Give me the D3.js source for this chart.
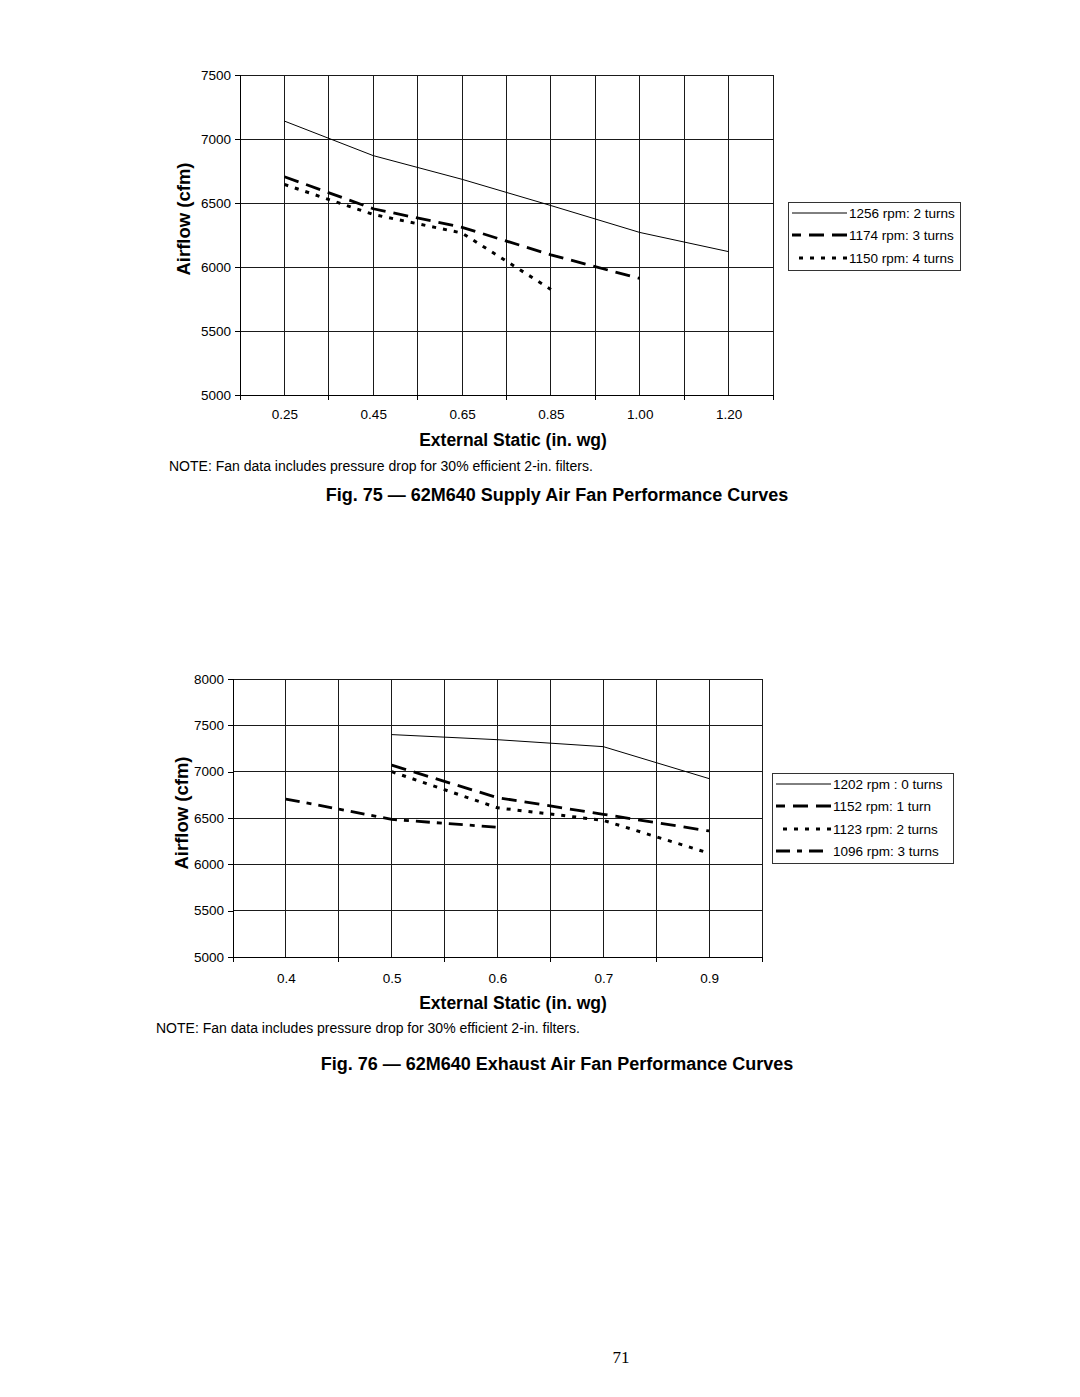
<!DOCTYPE html>
<html>
<head>
    <title>62M640 Fan Performance Curves</title>
    <script type="text/javascript" src="https://d3js.org/d3.v7.min.js"></script>
    <style>
        body { margin: 0; background: white; }
        text { font-family: "Liberation Sans", Arial, Helvetica, sans-serif; fill: black; }
    </style>
</head>
<body>
    <script type="text/javascript">
        // Fig. 75 - supply air fan
        var supplyCats = ["0.25", "0.45", "0.65", "0.85", "1.00", "1.20"];
        var supply1256 = [7140, 6870, 6685, 6480, 6270, 6120];
        var supply1174 = [6705, 6455, 6310, 6095, 5910, null];
        var supply1150 = [6645, 6410, 6265, 5825, null, null];
        var supplyNames = ["1256 rpm: 2 turns", "1174 rpm: 3 turns", "1150 rpm: 4 turns"];
        var supplyTicks = [5000, 5500, 6000, 6500, 7000, 7500];

        // Fig. 76 - exhaust air fan
        var exhaustCats = ["0.4", "0.5", "0.6", "0.7", "0.9"];
        var exhaust1202 = [null, 7400, 7345, 7270, 6925];
        var exhaust1152 = [null, 7070, 6720, 6540, 6360];
        var exhaust1123 = [null, 7000, 6610, 6475, 6120];
        var exhaust1096 = [6705, 6485, 6400, null, null];
        var exhaustNames = ["1202 rpm : 0 turns", "1152 rpm: 1 turn", "1123 rpm: 2 turns", "1096 rpm: 3 turns"];
        var exhaustTicks = [5000, 5500, 6000, 6500, 7000, 7500, 8000];

        var note = "NOTE: Fan data includes pressure drop for 30% efficient 2-in. filters.";

        // line styles: solid, dashed, dotted, dash-dot
        // fromRight = legend sample drawn from the text side so the pattern touches the label
        var styles = [
            { width: 1, dash: null, fromRight: true, len: 55 },
            { width: 2.8, dash: "15,8", fromRight: true, len: 55 },
            { width: 3, dash: "4,7", fromRight: true, len: 55 },
            { width: 2.8, dash: "14,7,5,7", fromRight: false, len: 49 }
        ];

        var svg = d3.select('body').append('svg')
                    .attr('width', 1080)
                    .attr('height', 1397);

        function drawChart(cfg) {
            var g = svg.append('g');

            var x = d3.scalePoint()
                .domain(cfg.cats)
                .range([cfg.left, cfg.right])
                .padding(0.5);
            var step = x.step();

            var y = d3.scaleLinear()
                .domain([cfg.ticks[0], cfg.ticks[cfg.ticks.length - 1]])
                .range([cfg.bottom, cfg.top]);

            // category boundaries + centres both get a vertical gridline
            var bounds = cfg.cats.map(function(c) { return x(c) - step / 2; });
            bounds.push(cfg.right);
            var vGrid = bounds.concat(cfg.cats.map(function(c) { return x(c); }));

            g.append('g').selectAll('line')
                .data(vGrid).enter()
                .append('line')
                .attr('x1', function(d) { return d; })
                .attr('x2', function(d) { return d; })
                .attr('y1', cfg.top)
                .attr('y2', cfg.bottom)
                .attr('stroke', '#1a1a1a')
                .attr('stroke-width', 1)
                .attr('shape-rendering', 'crispEdges');

            g.append('g').selectAll('line')
                .data(cfg.ticks).enter()
                .append('line')
                .attr('x1', cfg.left)
                .attr('x2', cfg.right)
                .attr('y1', function(d) { return y(d); })
                .attr('y2', function(d) { return y(d); })
                .attr('stroke', '#1a1a1a')
                .attr('stroke-width', 1)
                .attr('shape-rendering', 'crispEdges');

            // y axis
            var yAxis = d3.axisLeft(y)
                .tickValues(cfg.ticks)
                .tickSize(5)
                .tickPadding(4)
                .tickFormat(d3.format('d'));
            var ya = g.append('g')
                .attr('transform', 'translate(' + cfg.left + ',0)')
                .call(yAxis);
            ya.select('.domain').attr('stroke', '#000').attr('shape-rendering', 'crispEdges');
            ya.selectAll('.tick line').attr('stroke', '#000').attr('shape-rendering', 'crispEdges');
            ya.selectAll('text')
                .style('font-family', '"Liberation Sans", Arial, sans-serif')
                .style('font-size', '13.5px');

            // x axis: labels at centres, tick marks at boundaries
            var xAxis = d3.axisBottom(x)
                .tickSize(0)
                .tickPadding(cfg.xPad);
            var xa = g.append('g')
                .attr('transform', 'translate(0,' + cfg.bottom + ')')
                .call(xAxis);
            xa.select('.domain').remove();
            xa.selectAll('text')
                .style('font-family', '"Liberation Sans", Arial, sans-serif')
                .style('font-size', '13.5px');
            g.append('line')
                .attr('x1', cfg.left).attr('x2', cfg.right)
                .attr('y1', cfg.bottom).attr('y2', cfg.bottom)
                .attr('stroke', '#000')
                .attr('shape-rendering', 'crispEdges');
            g.append('g').selectAll('line')
                .data(bounds).enter()
                .append('line')
                .attr('x1', function(d) { return d; })
                .attr('x2', function(d) { return d; })
                .attr('y1', cfg.bottom)
                .attr('y2', cfg.bottom + 5)
                .attr('stroke', '#000')
                .attr('shape-rendering', 'crispEdges');

            // series
            var line = d3.line()
                .defined(function(d) { return d.v !== null; })
                .x(function(d) { return x(d.c); })
                .y(function(d) { return y(d.v); });

            cfg.series.forEach(function(vals, i) {
                var pts = vals.map(function(v, j) { return { c: cfg.cats[j], v: v }; });
                var st = styles[i];
                g.append('path')
                    .datum(pts)
                    .attr('d', line)
                    .attr('fill', 'none')
                    .attr('stroke', '#000')
                    .attr('stroke-width', st.width)
                    .attr('stroke-dasharray', st.dash);
            });

            // legend
            var lg = cfg.legend;
            g.append('rect')
                .attr('x', lg.x).attr('y', lg.y)
                .attr('width', lg.w).attr('height', lg.h)
                .attr('fill', 'white')
                .attr('stroke', '#333')
                .attr('shape-rendering', 'crispEdges');
            cfg.names.forEach(function(name, i) {
                var ry = lg.rows[i];
                var st = styles[i];
                var a = lg.x + 4, b = lg.x + 4 + st.len;
                g.append('line')
                    .attr('x1', st.fromRight ? b : a)
                    .attr('x2', st.fromRight ? a : b)
                    .attr('y1', ry).attr('y2', ry)
                    .attr('stroke', '#000')
                    .attr('stroke-width', st.width)
                    .attr('stroke-dasharray', st.dash);
                g.append('text')
                    .attr('x', lg.x + 61)
                    .attr('y', ry + 4.8)
                    .style('font-size', '13.5px')
                    .text(name);
            });

            // titles
            g.append('text')
                .attr('transform', 'translate(' + cfg.yTitle[0] + ',' + cfg.yTitle[1] + ') rotate(-90)')
                .attr('text-anchor', 'middle')
                .style('font-size', '18.5px')
                .style('font-weight', 'bold')
                .text('Airflow (cfm)');

            g.append('text')
                .attr('x', 513)
                .attr('y', cfg.xTitleY)
                .attr('text-anchor', 'middle')
                .style('font-size', '17.5px')
                .style('font-weight', 'bold')
                .text('External Static (in. wg)');

            g.append('text')
                .attr('x', cfg.noteX)
                .attr('y', cfg.noteY)
                .style('font-size', '14px')
                .text(note);

            g.append('text')
                .attr('x', 557)
                .attr('y', cfg.captionY)
                .attr('text-anchor', 'middle')
                .style('font-size', '18px')
                .style('font-weight', 'bold')
                .text(cfg.caption);
        }

        drawChart({
            cats: supplyCats,
            series: [supply1256, supply1174, supply1150],
            names: supplyNames,
            ticks: supplyTicks,
            left: 240, right: 773, top: 75, bottom: 395,
            xPad: 14,
            legend: { x: 788, y: 202, w: 172, h: 68, rows: [213, 235, 258] },
            yTitle: [190, 219],
            xTitleY: 446,
            noteX: 169, noteY: 471,
            captionY: 501,
            caption: 'Fig. 75 \u2014 62M640 Supply Air Fan Performance Curves'
        });

        drawChart({
            cats: exhaustCats,
            series: [exhaust1202, exhaust1152, exhaust1123, exhaust1096],
            names: exhaustNames,
            ticks: exhaustTicks,
            left: 233, right: 762, top: 679, bottom: 957,
            xPad: 16,
            legend: { x: 772, y: 773, w: 181, h: 90, rows: [784, 806, 829, 851] },
            yTitle: [188, 813],
            xTitleY: 1009,
            noteX: 156, noteY: 1033,
            captionY: 1070,
            caption: 'Fig. 76 \u2014 62M640 Exhaust Air Fan Performance Curves'
        });

        svg.append('text')
            .attr('x', 621)
            .attr('y', 1363)
            .attr('text-anchor', 'middle')
            .style('font-family', '"Liberation Serif", "Times New Roman", serif')
            .style('font-size', '17px')
            .text('71');
    </script>
</body>
</html>
